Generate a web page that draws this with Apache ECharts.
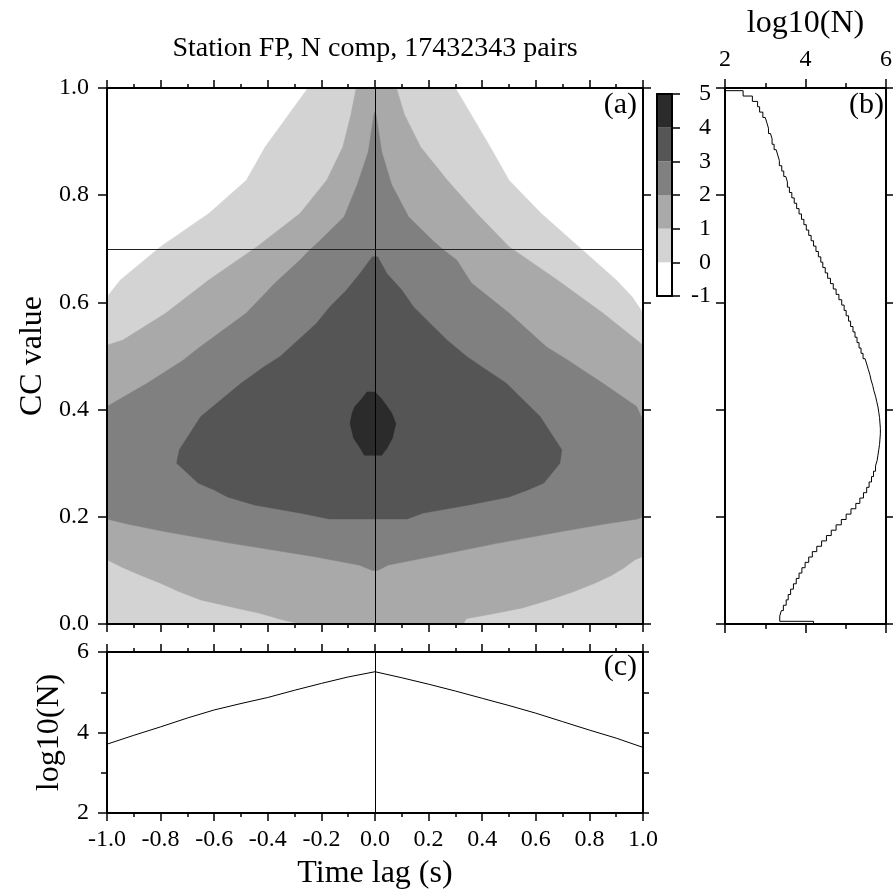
<!DOCTYPE html>
<html>
<head>
<meta charset="utf-8">
<script src="https://cdn.jsdelivr.net/npm/echarts@6/dist/echarts.min.js"></script>
<style>
html,body{margin:0;padding:0;background:#ffffff;}
#chart{width:893px;height:894px;}
</style>
</head>
<body>
<div id="chart"></div>
<script>
// ---------------- data ----------------
const titleText = 'Station FP, N comp, 17432343 pairs';

// Contour-level regions of the 2-D histogram (log10 N >= level).
// Each row: [CC value, left time-lag boundary, right time-lag boundary]
const level0Rows = [
  [0.000,-1.00,1.00],[0.580,-1.00,1.00],[0.610,-1.00,0.96],[0.642,-0.95,0.90],
  [0.704,-0.80,0.76],[0.766,-0.62,0.62],[0.828,-0.48,0.50],[0.890,-0.41,0.43],
  [1.000,-0.25,0.30]
];
const level1Rows = [
  [0.000,-0.28,0.33],[0.010,-0.36,0.34],[0.020,-0.43,0.45],[0.030,-0.52,0.55],
  [0.045,-0.65,0.65],[0.060,-0.73,0.74],[0.076,-0.80,0.82],[0.090,-0.87,0.88],
  [0.105,-0.94,0.93],[0.120,-1.00,0.97],[0.126,-1.00,1.00],[0.520,-1.00,1.00],
  [0.530,-0.94,0.976],[0.580,-0.78,0.85],[0.642,-0.62,0.68],[0.704,-0.44,0.50],
  [0.766,-0.28,0.38],[0.828,-0.18,0.27],[0.890,-0.12,0.17],[0.950,-0.09,0.11],
  [1.000,-0.07,0.08]
];
const level2Rows = [
  [0.100,-0.01,0.01],[0.110,-0.06,0.05],[0.126,-0.23,0.21],[0.150,-0.53,0.45],
  [0.172,-0.78,0.69],[0.186,-0.92,0.85],[0.196,-1.00,0.98],[0.200,-1.00,1.00],
  [0.380,-1.00,1.00],[0.406,-1.00,0.976],[0.449,-0.85,0.85],[0.492,-0.716,0.72],
  [0.517,-0.653,0.64],[0.580,-0.48,0.50],[0.636,-0.373,0.36],[0.679,-0.28,0.305],
  [0.698,-0.243,0.255],[0.713,-0.21,0.22],[0.760,-0.115,0.125],[0.820,-0.066,0.062],
  [0.881,-0.025,0.025],[0.950,-0.004,0.004],[0.956,0.000,0.000]
];
const level3Rows = [
  [0.196,-0.17,0.12],[0.207,-0.28,0.18],[0.222,-0.45,0.35],[0.237,-0.55,0.50],
  [0.250,-0.60,0.57],[0.263,-0.66,0.63],[0.300,-0.74,0.69],[0.325,-0.73,0.697],
  [0.387,-0.65,0.616],[0.449,-0.50,0.49],[0.480,-0.414,0.398],[0.499,-0.354,0.342],
  [0.530,-0.286,0.268],[0.561,-0.218,0.205],[0.592,-0.168,0.143],[0.623,-0.106,0.100],
  [0.654,-0.056,0.044],[0.685,-0.010,0.010]
];
const level4Rows = [
  [0.315,-0.040,0.025],[0.328,-0.055,0.045],[0.347,-0.080,0.065],[0.374,-0.093,0.078],
  [0.394,-0.085,0.062],[0.406,-0.075,0.045],[0.420,-0.050,0.025],[0.433,-0.030,0.000]
];
const levelRows = [level0Rows, level1Rows, level2Rows, level3Rows, level4Rows];
const levelColors = ['#d3d3d3','#a9a9a9','#808080','#555555','#2b2b2b'];

// colour-bar boxes (lower bound of each box)
const colorbarLevels = [-1, 0, 1, 2, 3, 4];
const colorbarColors = ['#ffffff','#d3d3d3','#a9a9a9','#808080','#555555','#2b2b2b'];

// reference lines in panel (a)
const zeroLag = 0;
const ccThreshold = 0.7;

// panel (b): log10(N) per CC bin, bins centred on 0.00, 0.01, ... 1.00
const histLogN = [
  4.20,3.36,3.40,3.45,3.52,3.57,3.63,3.70,3.77,3.84,
  3.91,3.99,4.08,4.17,4.28,4.40,4.52,4.64,4.76,4.89,
  5.01,5.13,5.25,5.35,5.44,5.52,5.58,5.64,5.69,5.74,
  5.78,5.80,5.82,5.84,5.85,5.86,5.86,5.85,5.84,5.82,
  5.80,5.77,5.74,5.70,5.67,5.63,5.60,5.56,5.52,5.48,
  5.43,5.38,5.33,5.28,5.23,5.18,5.12,5.07,5.01,4.96,
  4.90,4.83,4.76,4.69,4.62,4.55,4.49,4.43,4.38,4.32,
  4.26,4.20,4.14,4.08,4.02,3.96,3.90,3.84,3.78,3.72,
  3.66,3.60,3.55,3.51,3.46,3.41,3.35,3.31,3.27,3.22,
  3.17,3.13,3.08,3.04,3.00,2.94,2.86,2.81,2.68,2.45,
  2.00
];
const histBinWidth = 0.01;

// panel (c): log10(N) vs time lag
const lagValues = [-1.0,-0.9,-0.8,-0.7,-0.6,-0.5,-0.4,-0.3,-0.2,-0.1,0.0,0.1,0.2,0.3,0.4,0.5,0.6,0.7,0.8,0.9,1.0];
const lagLogN   = [3.71,3.93,4.14,4.36,4.56,4.72,4.87,5.05,5.22,5.38,5.51,5.36,5.20,5.03,4.85,4.67,4.48,4.27,4.06,3.86,3.63];

// ---------------- chart ----------------
const FONT = "'Liberation Serif','Times New Roman',serif";

const histPoints = [];
histLogN.forEach(function (v, k) {
  const c = k * histBinWidth;
  const lo = Math.max(0, c - histBinWidth / 2);
  const hi = Math.min(1, c + histBinWidth / 2);
  histPoints.push([v, lo], [v, hi]);
});

function axis(o) {
  const base = {
    type: 'value',
    z: 5,
    axisLine: { show: true, onZero: false, lineStyle: { color: '#000', width: 2 } },
    axisTick: { show: true, inside: false, length: 8, lineStyle: { color: '#000', width: 1.5 } },
    minorTick: { show: false },
    axisLabel: { show: false, color: '#000', fontFamily: FONT, fontSize: 24, showMinLabel: true, showMaxLabel: true },
    splitLine: { show: false },
    minorSplitLine: { show: false }
  };
  const r = Object.assign({}, base, o);
  ['axisLine','axisTick','minorTick','axisLabel'].forEach(function (k) {
    if (o[k]) r[k] = Object.assign({}, base[k], o[k]);
  });
  return r;
}
const fmt1 = function (v) { return Number(v).toFixed(1); };
const nameStyle = { color: '#000', fontFamily: FONT, fontSize: 32 };

const option = {
  backgroundColor: '#ffffff',
  animation: false,
  title: {
    text: titleText, left: 370, top: 30, textAlign: 'center',
    textStyle: { color: '#000', fontFamily: FONT, fontSize: 28, fontWeight: 'normal' }
  },
  grid: [
    { left: 107, top: 88, width: 536, height: 536, outerBoundsMode: 'none' },
    { left: 107, top: 652, width: 536, height: 161, outerBoundsMode: 'none' },
    { left: 725, top: 88, width: 161, height: 536, outerBoundsMode: 'none' },
    { left: 657, top: 94, width: 15, height: 202, outerBoundsMode: 'none' }
  ],
  xAxis: [
    axis({ gridIndex: 0, position: 'bottom', min: -1, max: 1, interval: 0.2,
           minorTick: { show: true, splitNumber: 2, length: 4, lineStyle: { color: '#000', width: 1.5 } } }),
    axis({ gridIndex: 0, position: 'top', min: -1, max: 1, interval: 0.2,
           minorTick: { show: true, splitNumber: 2, length: 4, lineStyle: { color: '#000', width: 1.5 } } }),
    axis({ gridIndex: 1, position: 'bottom', min: -1, max: 1, interval: 0.2,
           minorTick: { show: true, splitNumber: 2, length: 4, lineStyle: { color: '#000', width: 1.5 } },
           axisLabel: { show: true, margin: 15, formatter: fmt1 },
           name: 'Time lag (s)', nameLocation: 'middle', nameGap: 45, nameTextStyle: nameStyle }),
    axis({ gridIndex: 1, position: 'top', min: -1, max: 1, interval: 0.2,
           minorTick: { show: true, splitNumber: 2, length: 4, lineStyle: { color: '#000', width: 1.5 } } }),
    axis({ gridIndex: 2, position: 'top', min: 2, max: 6, interval: 2,
           axisTick: { length: 9 },
           minorTick: { show: true, splitNumber: 2, length: 5, lineStyle: { color: '#000', width: 1.5 } },
           axisLabel: { show: true, margin: 16 },
           name: 'log10(N)', nameLocation: 'middle', nameGap: 48, nameTextStyle: nameStyle }),
    axis({ gridIndex: 2, position: 'bottom', min: 2, max: 6, interval: 2,
           axisTick: { length: 9 },
           minorTick: { show: true, splitNumber: 2, length: 5, lineStyle: { color: '#000', width: 1.5 } } }),
    axis({ gridIndex: 3, position: 'bottom', min: 0, max: 1, axisTick: { show: false } }),
    axis({ gridIndex: 3, position: 'top', min: 0, max: 1, axisTick: { show: false } })
  ],
  yAxis: [
    axis({ gridIndex: 0, position: 'left', min: 0, max: 1, interval: 0.2,
           axisTick: { length: 9 },
           axisLabel: { show: true, margin: 18, formatter: fmt1 },
           name: 'CC value', nameLocation: 'middle', nameGap: 57, nameRotate: 90, nameTextStyle: nameStyle }),
    axis({ gridIndex: 0, position: 'right', min: 0, max: 1, interval: 0.2 }),
    axis({ gridIndex: 1, position: 'left', min: 2, max: 6, interval: 2,
           axisTick: { length: 9 },
           minorTick: { show: true, splitNumber: 2, length: 6, lineStyle: { color: '#000', width: 1.5 } },
           axisLabel: { show: true, margin: 18 },
           name: 'log10(N)', nameLocation: 'middle', nameGap: 41, nameRotate: 90, nameTextStyle: nameStyle }),
    axis({ gridIndex: 1, position: 'right', min: 2, max: 6, interval: 1, axisTick: { length: 6 } }),
    axis({ gridIndex: 2, position: 'left', min: 0, max: 1, interval: 0.2, axisTick: { length: 9 } }),
    axis({ gridIndex: 2, position: 'right', min: 0, max: 1, interval: 0.2 }),
    axis({ gridIndex: 3, position: 'right', min: -1, max: 5, interval: 1,
           axisTick: { length: 8 },
           axisLabel: { show: true, margin: 39, align: 'right' } }),
    axis({ gridIndex: 3, position: 'left', min: -1, max: 5, interval: 1, axisTick: { show: false } })
  ],
  graphic: [
    { type: 'text', right: 256, top: 90, style: { text: '(a)', fill: '#000', font: '30px ' + FONT } },
    { type: 'text', right: 9, top: 90, style: { text: '(b)', fill: '#000', font: '30px ' + FONT } },
    { type: 'text', right: 256, top: 652, style: { text: '(c)', fill: '#000', font: '30px ' + FONT } }
  ],
  series: [
    {
      type: 'custom', name: 'levels', xAxisIndex: 0, yAxisIndex: 0, silent: true, clip: true,
      data: levelRows.map(function (r, i) { return [i]; }),
      renderItem: function (params, api) {
        const rows = levelRows[params.dataIndex];
        const right = rows.map(function (r) { return api.coord([r[2], r[0]]); });
        const left = rows.slice().reverse().map(function (r) { return api.coord([r[1], r[0]]); });
        const col = levelColors[params.dataIndex];
        return { type: 'polygon', shape: { points: right.concat(left) },
                 style: { fill: col, stroke: col, lineWidth: 0.5 } };
      }
    },
    {
      type: 'line', name: 'refLines', xAxisIndex: 0, yAxisIndex: 0, data: [], silent: true,
      markLine: {
        silent: true, symbol: 'none', animation: false,
        label: { show: false },
        lineStyle: { color: '#000', width: 1, type: 'solid' },
        data: [{ xAxis: zeroLag }, { yAxis: ccThreshold, lineStyle: { color: '#222', width: 1, type: 'solid' } }]
      }
    },
    {
      type: 'line', name: 'lagProfile', xAxisIndex: 2, yAxisIndex: 2, silent: true,
      data: lagValues.map(function (x, i) { return [x, lagLogN[i]]; }),
      symbol: 'none', lineStyle: { color: '#000', width: 1 },
      markLine: {
        silent: true, symbol: 'none', animation: false, label: { show: false },
        lineStyle: { color: '#000', width: 1, type: 'solid' },
        data: [{ xAxis: zeroLag }]
      }
    },
    {
      type: 'line', name: 'ccHistogram', xAxisIndex: 4, yAxisIndex: 4, silent: true,
      data: histPoints, symbol: 'none', clip: true,
      lineStyle: { color: '#000', width: 1 }
    },
    {
      type: 'custom', name: 'colorbar', xAxisIndex: 6, yAxisIndex: 6, silent: true,
      data: colorbarLevels.map(function (v) { return [v]; }),
      renderItem: function (params, api) {
        const v = api.value(0);
        const p0 = api.coord([0, v + 1]);
        const p1 = api.coord([1, v]);
        return { type: 'rect', shape: { x: p0[0], y: p0[1], width: p1[0] - p0[0], height: p1[1] - p0[1] },
                 style: { fill: colorbarColors[params.dataIndex] } };
      }
    }
  ]
};

const chart = echarts.init(document.getElementById('chart'), null, { renderer: 'canvas' });
chart.setOption(option);
</script>
</body>
</html>
